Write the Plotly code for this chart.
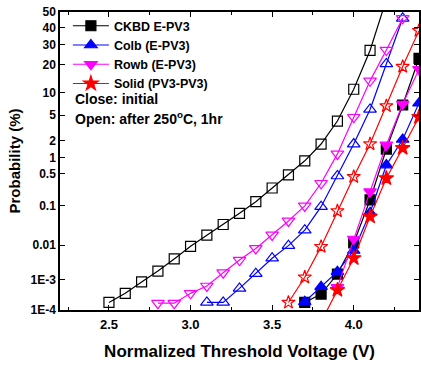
from statistics import NormalDist
import plotly.graph_objects as go

ND = NormalDist()


def probit(pct_list):
    return [ND.inv_cdf(v / 100.0) for v in pct_list]


# ---- data: Close = initial (hollow symbols) ----
ckbd_init_v = [2.5, 2.6, 2.7, 2.8, 2.9, 3.0, 3.1, 3.2, 3.3, 3.4, 3.5, 3.6, 3.7, 3.8, 3.9, 4.0, 4.1, 4.2]
ckbd_init_p = [1.8e-4, 3.6e-4, 8.3e-4, 1.8e-3, 4.1e-3, 9.3e-3, 0.0185, 0.035, 0.066, 0.124,
               0.25, 0.47, 0.88, 1.76, 4.1, 10.9, 27, 58]

colb_init_v = [3.1, 3.2, 3.3, 3.4, 3.5, 3.6, 3.7, 3.8, 3.9, 4.0, 4.1, 4.2, 4.3]
colb_init_p = [1.8e-4, 1.8e-4, 5.2e-4, 1.5e-3, 4.3e-3, 9.7e-3, 0.025, 0.095, 0.445, 1.76, 6.0, 20.4, 46]

rowb_init_v = [2.8, 2.9, 3.0, 3.1, 3.2, 3.3, 3.4, 3.5, 3.6, 3.7, 3.8, 3.9, 4.0, 4.1, 4.2, 4.3]
rowb_init_p = [1.7e-4, 1.7e-4, 3.6e-4, 6.2e-4, 1.6e-3, 3.8e-3, 8.1e-3, 0.0188, 0.043, 0.099,
               0.315, 1.18, 4.66, 13.6, 27.2, 46]

solid_init_v = [3.6, 3.7, 3.8, 3.9, 4.0, 4.1, 4.2, 4.3, 4.4]
solid_init_p = [1.8e-4, 1.16e-3, 9.1e-3, 0.075, 0.43, 1.76, 6.7, 19.2, 38.3]

# ---- data: Open = after 250C, 1hr (filled symbols) ----
ckbd_ann_v = [3.7, 3.8, 3.9, 4.0, 4.1, 4.2, 4.3, 4.4]
ckbd_ann_p = [1.8e-4, 3.4e-4, 1.46e-3, 0.0115, 0.136, 1.44, 6.9, 23]

colb_ann_v = [3.7, 3.8, 3.9, 4.0, 4.1, 4.2, 4.3, 4.4]
colb_ann_p = [1.9e-4, 5.9e-4, 1.72e-3, 7.1e-3, 0.0685, 0.73, 2.1, 7.3]

rowb_ann_v = [3.9, 4.0, 4.1, 4.2, 4.3, 4.4]
rowb_ann_p = [5.6e-4, 0.0147, 0.208, 1.70, 7.1, 18]

solid_ann_v = [3.8, 3.9, 4.0, 4.1, 4.2, 4.3, 4.4]
solid_ann_p = [3.8e-5, 4.6e-4, 4.3e-3, 0.055, 0.40, 1.5, 4.7]

# ---- axis ticks ----
y_tick_pct = [50, 40, 30, 20, 10, 5, 2, 1, 0.5, 0.1, 0.01, 1e-3, 1e-4]
y_tick_text = ["50", "40", "30", "20", "10", "5", "2", "1", "0.5", "0.1", "0.01", "1E-3", "1E-4"]
x_tick_vals = [2.5, 3.0, 3.5, 4.0]
x_tick_text = ["2.5", "3.0", "3.5", "4.0"]

FONT = "Liberation Sans, Arial, sans-serif"

fig = go.Figure()


def add(v, p, name, color, symbol, size, legend, rank):
    fig.add_trace(go.Scatter(
        x=v, y=probit(p), name=name, mode="lines+markers",
        line=dict(color=color, width=1.2),
        marker=dict(symbol=symbol, size=size, color=color,
                    line=dict(color=color, width=1.2)),
        showlegend=legend, legendrank=rank,
    ))


# hollow (initial)
add(ckbd_init_v, ckbd_init_p, "CKBD init", "#000000", "square-open", 10, False, 100)
add(colb_init_v, colb_init_p, "Colb init", "#0000FF", "triangle-up-open", 11, False, 100)
add(rowb_init_v, rowb_init_p, "Rowb init", "#FF00FF", "triangle-down-open", 11, False, 100)
add(solid_init_v, solid_init_p, "Solid init", "#FF0000", "star-open", 10, False, 100)
# filled (after anneal)
add(ckbd_ann_v, ckbd_ann_p, "CKBD E-PV3", "#000000", "square", 10, True, 1)
add(colb_ann_v, colb_ann_p, "Colb (E-PV3)", "#0000FF", "triangle-up", 11, True, 2)
add(rowb_ann_v, rowb_ann_p, "Rowb (E-PV3)", "#FF00FF", "triangle-down", 11, True, 3)
add(solid_ann_v, solid_ann_p, "Solid (PV3-PV3)", "#FF0000", "star", 11, True, 4)

fig.update_layout(
    width=421, height=365,
    margin=dict(l=60, r=0, t=12, b=55),
    paper_bgcolor="white", plot_bgcolor="white",
    font=dict(family=FONT, color="black", weight="bold"),
    legend=dict(x=0.022, y=1.003, xanchor="left", yanchor="top",
                bgcolor="rgba(0,0,0,0)", borderwidth=0,
                font=dict(family=FONT, size=12.5, weight="bold"),
                itemwidth=36, tracegroupgap=0),
    xaxis=dict(
        range=[2.2, 4.4], tickvals=x_tick_vals, ticktext=x_tick_text,
        ticks="inside", ticklen=5, tickwidth=1, tickcolor="black",
        minor=dict(dtick=0.25, tick0=2.5, ticks="inside", ticklen=3, tickcolor="black"),
        showline=True, linecolor="black", linewidth=1.5, mirror="allticks",
        showgrid=False, zeroline=False,
        tickfont=dict(family=FONT, size=13, weight="bold"),
        ticklabelstandoff=2,
        title=dict(text="Normalized Threshold Voltage (V)",
                   font=dict(family=FONT, size=17, weight="bold"), standoff=14),
    ),
    yaxis=dict(
        range=[ND.inv_cdf(1e-6), 0.0],
        tickvals=probit(y_tick_pct), ticktext=y_tick_text,
        ticks="inside", ticklen=5, tickwidth=1, tickcolor="black",
        showline=True, linecolor="black", linewidth=1.5, mirror="allticks",
        showgrid=False, zeroline=False,
        tickfont=dict(family=FONT, size=12, weight="bold"),
        title=dict(text="Probability (%)",
                   font=dict(family=FONT, size=15, weight="bold"), standoff=6),
    ),
    annotations=[
        dict(text="Close: initial", xref="paper", yref="paper",
             x=0.035, y=0.709, xanchor="left", yanchor="middle", showarrow=False,
             font=dict(family=FONT, size=14, weight="bold")),
        dict(text="Open: after 250<sup>o</sup>C, 1hr", xref="paper", yref="paper",
             x=0.035, y=0.645, xanchor="left", yanchor="middle", showarrow=False,
             font=dict(family=FONT, size=14, weight="bold")),
    ],
)

fig.write_html("out.html")
